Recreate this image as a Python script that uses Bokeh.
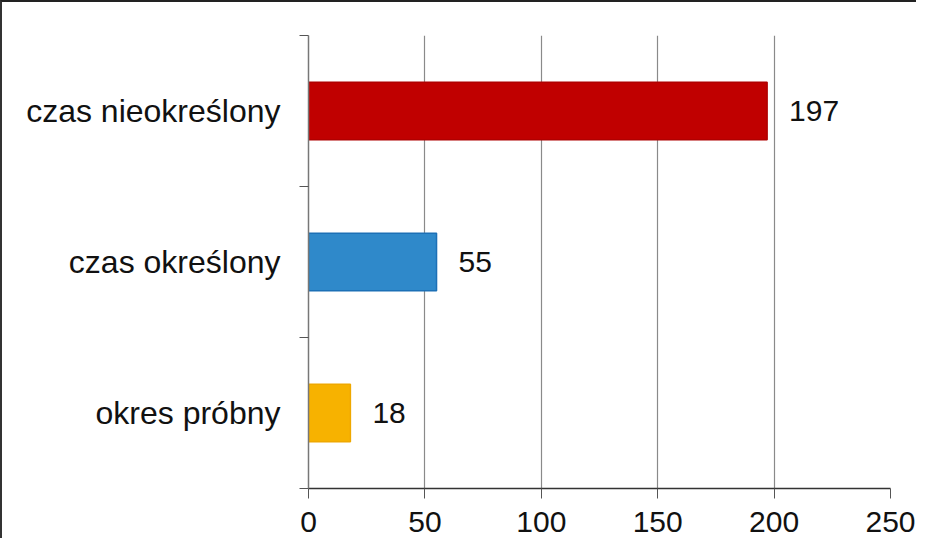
from bokeh.plotting import figure
from bokeh.models import Range1d, FixedTicker, ColumnDataSource, LabelSet
from bokeh.core.properties import value
from bokeh.embed import file_html
from bokeh.resources import INLINE

categories = ["okres próbny", "czas określony", "czas nieokreślony"]
values = [18, 55, 197]
colors = ["#F7B200", "#2F89CA", "#C00000"]
line_colors = ["#EFA800", "#1C70B6", "#B00000"]
x_ticks = [0, 50, 100, 150, 200, 250]

ypos = [i + 0.5 for i in range(len(categories))]
labels_txt = [str(v) for v in values]

src = ColumnDataSource(dict(y=ypos, v=values, c=colors, lc=line_colors, t=labels_txt))

p = figure(frame_width=582, frame_height=453, output_backend="svg", toolbar_location=None,
           x_range=Range1d(0, 250), y_range=Range1d(0, len(categories)),
           min_border_left=306, min_border_right=26, min_border_top=33, min_border_bottom=50)
p.outline_line_color = None
p.background_fill_color = "white"
p.border_fill_color = "white"
p.styles = {"border-top": "2px solid #222", "border-left": "2px solid #333"}

p.hbar(y="y", left=0, right="v", height=0.38, fill_color="c", line_color="lc", line_width=1.5, source=src)

lbl = LabelSet(x="v", y="y", text="t", source=src, x_offset=22, text_baseline="middle",
               text_font=value("Liberation Sans"), text_font_size="30px", text_color="#111111")
p.add_layout(lbl)

# x axis
p.xaxis.ticker = FixedTicker(ticks=x_ticks)
p.xaxis.axis_line_color = "#333333"
p.xaxis.axis_line_width = 1.5
p.xaxis.major_tick_line_color = "#555555"
p.xaxis.major_tick_out = 10
p.xaxis.major_tick_in = 0
p.xaxis.minor_tick_line_color = None
p.xaxis.major_label_standoff = 13
p.xaxis.major_label_text_font = "Liberation Sans"
p.xaxis.major_label_text_font_size = "30px"
p.xaxis.major_label_text_color = "#111111"

# y axis
p.yaxis.ticker = FixedTicker(ticks=ypos, minor_ticks=list(range(len(categories) + 1)))
p.yaxis.major_label_overrides = {y: c for y, c in zip(ypos, categories)}
p.yaxis.axis_line_color = "#777777"
p.yaxis.axis_line_width = 1.5
p.yaxis.major_tick_line_color = None
p.yaxis.major_tick_out = 0
p.yaxis.major_tick_in = 0
p.yaxis.minor_tick_line_color = "#555555"
p.yaxis.minor_tick_out = 9
p.yaxis.minor_tick_in = 0
p.yaxis.major_label_standoff = 19
p.yaxis.major_label_text_font = "Liberation Sans"
p.yaxis.major_label_text_font_size = "32px"
p.yaxis.major_label_text_color = "#111111"

p.xgrid.ticker = FixedTicker(ticks=x_ticks)
p.xgrid.grid_line_color = "#8A8A8A"
p.xgrid.grid_line_width = 1.2
p.ygrid.grid_line_color = None

open("out.html", "w").write(file_html(p, INLINE))
